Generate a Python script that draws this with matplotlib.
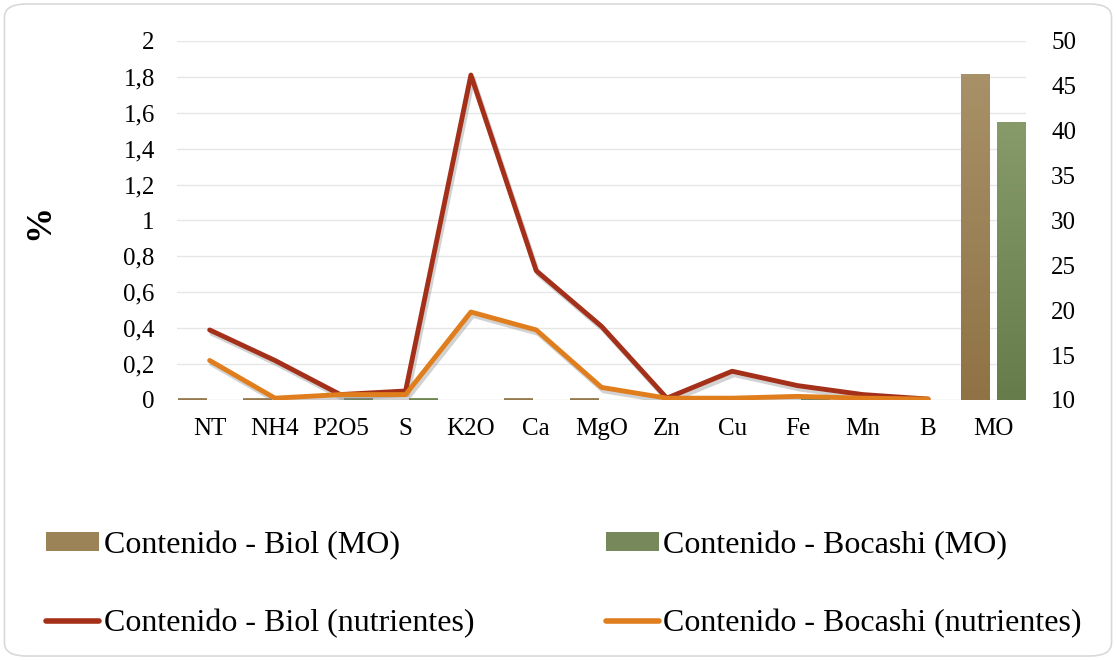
import numpy as np
import matplotlib
matplotlib.use('Agg')
import matplotlib.pyplot as plt
from matplotlib.patches import FancyBboxPatch, Patch
from matplotlib.lines import Line2D
import matplotlib.patheffects as pe

plt.rcParams['font.family'] = ['Liberation Serif', 'DejaVu Serif']

categories = ['NT', 'NH4', 'P2O5', 'S', 'K2O', 'Ca', 'MgO', 'Zn', 'Cu', 'Fe', 'Mn', 'B', 'MO']
# lines on primary axis (%), no value for MO
biol_nut = [0.39, 0.22, 0.03, 0.05, 1.81, 0.72, 0.41, 0.01, 0.16, 0.08, 0.03, 0.005, np.nan]
bocashi_nut = [0.22, 0.01, 0.03, 0.03, 0.49, 0.39, 0.07, 0.01, 0.01, 0.02, 0.01, 0.005, np.nan]
# bars on secondary axis (10 = baseline)
biol_mo = [10.15, 10.15, 10.0, 10.0, 10.0, 10.15, 10.15, 10.0, 10.0, 10.0, 10.0, 10.0, 46.3]
bocashi_mo = [10.0, 10.0, 10.15, 10.15, 10.0, 10.0, 10.0, 10.15, 10.0, 10.15, 10.0, 10.0, 40.9]

left_ticks = [0, 0.2, 0.4, 0.6, 0.8, 1, 1.2, 1.4, 1.6, 1.8, 2]
left_labels = ['0', '0,2', '0,4', '0,6', '0,8', '1', '1,2', '1,4', '1,6', '1,8', '2']
right_ticks = [10, 15, 20, 25, 30, 35, 40, 45, 50]

brown_top, brown_bot = '#a89068', '#8f7346'
green_top, green_bot = '#869a6a', '#667c4a'
red = '#a5301a'
orange = '#e07d1c'

fig = plt.figure(figsize=(11.16, 6.6), dpi=100)
fig.patches.append(FancyBboxPatch((0.004, 0.006), 0.992, 0.988, boxstyle='round,pad=0,rounding_size=0.02',
                                  transform=fig.transFigure, facecolor='white', edgecolor='#d9d9d9',
                                  linewidth=1.2, zorder=-10))

ax = fig.add_axes([0.1586, 0.394, 0.7608, 0.544])
ax.patch.set_alpha(0)
ax2 = ax.twinx()

x = np.arange(len(categories))
w = 0.44
off = 0.27


def grad_bar(axis, xc, h, base, ctop, cbot):
    if h - base <= 0:
        return
    grad = np.linspace(0, 1, 100).reshape(-1, 1)
    c1 = np.array(matplotlib.colors.to_rgb(ctop))
    c2 = np.array(matplotlib.colors.to_rgb(cbot))
    img = c2 + (c1 - c2) * grad[..., None]
    axis.imshow(img, extent=[xc - w / 2, xc + w / 2, base, h], origin='lower',
                aspect='auto', zorder=2)


# gridlines behind the bars, at the primary tick positions
for t in left_ticks[1:]:
    ax2.axhline(10 + t * 20, color='#e6e6e6', lw=1, zorder=0)
ax2.axhline(10, color='#d9d9d9', lw=1, zorder=0)

for i in range(len(categories)):
    grad_bar(ax2, x[i] - off, biol_mo[i], 10, brown_top, brown_bot)
    grad_bar(ax2, x[i] + off, bocashi_mo[i], 10, green_top, green_bot)

ax2.set_ylim(10, 50)
ax2.set_yticks(right_ticks)
ax2.set_xlim(-0.5, len(categories) - 0.5)

shadow = [pe.SimpleLineShadow(offset=(1.5, -2.5), shadow_color='gray', alpha=0.35), pe.Normal()]
ax.plot(x, biol_nut, color=red, lw=3.5, solid_capstyle='round', solid_joinstyle='round',
        path_effects=shadow, zorder=5)
ax.plot(x, bocashi_nut, color=orange, lw=3.5, solid_capstyle='round', solid_joinstyle='round',
        path_effects=shadow, zorder=6)
ax.set_zorder(ax2.get_zorder() + 1)

ax.set_ylim(0, 2)
ax.set_xlim(-0.5, len(categories) - 0.5)
ax.set_yticks(left_ticks)
ax.set_yticklabels(left_labels)
ax.set_xticks(x)
ax.set_xticklabels(categories)
for a in (ax, ax2):
    for s in a.spines.values():
        s.set_visible(False)
    a.tick_params(length=0, labelsize=18, colors='black')
ax.tick_params(axis='y', pad=16)
ax.tick_params(axis='x', pad=13)
ax2.tick_params(axis='y', pad=18)
ax.set_ylabel('%', fontsize=26, fontweight='bold')
ax.yaxis.set_label_coords(-0.142, 0.496)

handles = [Patch(facecolor='#9c8257', edgecolor='none'),
           Line2D([0], [0], color=red, lw=4, solid_capstyle='round'),
           Patch(facecolor='#77895a', edgecolor='none'),
           Line2D([0], [0], color=orange, lw=4, solid_capstyle='round')]
labels = ['Contenido - Biol (MO)', 'Contenido - Biol (nutrientes)',
          'Contenido - Bocashi (MO)', 'Contenido - Bocashi (nutrientes)']
fig.legend(handles, labels, ncol=2, loc='upper left', bbox_to_anchor=(0.0415, 0.196),
           frameon=False, fontsize=23, handlelength=1.66, handleheight=0.5, handletextpad=0.15,
           columnspacing=4.1, labelspacing=1.52, borderaxespad=0, borderpad=0)

fig.savefig('out.png', dpi=100)
